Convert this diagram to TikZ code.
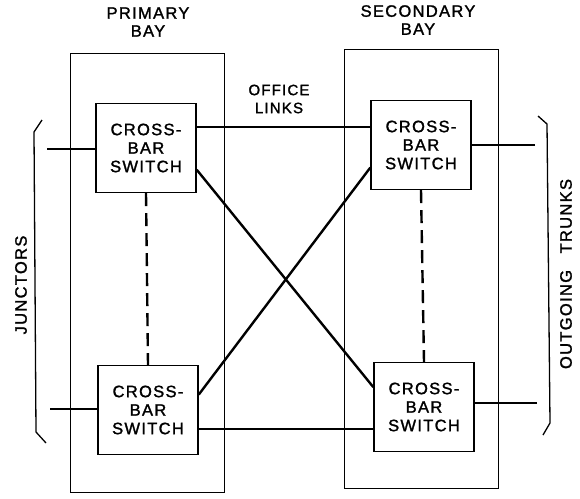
\documentclass[tikz,border=0pt]{standalone}
\usepackage{fontspec}
\setmainfont{Liberation Sans}[LetterSpace=8, FakeBold=1.5]
\usetikzlibrary{calc}

\begin{document}
\begin{tikzpicture}[
  x=1pt, y=-1pt,
  bay/.style={draw, line width=1.1pt, minimum width=154pt, minimum height=439pt},
  switch/.style={draw, fill=white, line width=1.4pt, align=center, inner sep=0pt,
    minimum width=100pt, minimum height=89pt, font=\fontsize{16.5}{18.5}\selectfont},
  tag/.style={align=center, inner sep=0pt, font=\fontsize{16.5}{18}\selectfont},
  link/.style={line width=2.4pt},
  dashlink/.style={line width=2.4pt, dash pattern=on 13pt off 7pt},
  brace/.style={line width=1.3pt}
]
\useasboundingbox (0,0) rectangle (580,498);

\node[bay] (pbay) at (147.5,273) {};
\node[bay] (sbay) at (421.5,269) {};
\node[tag] (ptext) at (148,22) {PRIMARY\\BAY};
\node[tag] (stext) at (418,20) {SECONDARY\\BAY};
\node[tag, font=\fontsize{15}{18}\selectfont] (otext) at (279,99) {OFFICE\\LINKS};

\node[switch] (ptop) at (146,148) {CROSS-\\BAR\\SWITCH};
\node[switch] (pbot) at (148,410) {CROSS-\\BAR\\SWITCH};
\node[switch] (stop) at (421,145) {CROSS-\\BAR\\SWITCH};
\node[switch] (sbot) at (424,407) {CROSS-\\BAR\\SWITCH};

\coordinate (jtop) at (47,149);
\coordinate (jbot) at (50,409);
\coordinate (otop) at (535,145);
\coordinate (obot) at (537,403);

\draw[link] (jtop) -- (jtop -| ptop.west);
\draw[link] (jbot) -- (jbot -| pbot.west);
\draw[link] (otop) -- (otop -| stop.east);
\draw[link] (obot) -- (obot -| sbot.east);

\draw[link] ($(ptop.north east)!0.27!(ptop.south east)$) coordinate (l1)
  -- (l1 -| stop.west);
\draw[link] ($(pbot.north east)!0.71!(pbot.south east)$) coordinate (l2)
  -- (l2 -| sbot.west);
\draw[link] ($(ptop.north east)!0.74!(ptop.south east)$)
  -- ($(sbot.north west)!0.28!(sbot.south west)$);
\draw[link] ($(pbot.north east)!0.33!(pbot.south east)$)
  -- ($(stop.north west)!0.75!(stop.south west)$);

\draw[dashlink] (ptop.south) -- (pbot.north);
\draw[dashlink] (stop.south) -- (sbot.north);

\draw[brace] (42,120) -- (34,132) -- (36,432) -- (46,443);
\draw[brace] (538,116) -- (547,124) -- (550,423) -- (543,435);

\node[tag, rotate=90] (jtext) at (21,285) {JUNCTORS};
\node[tag, rotate=90] (otrunks) at (566,274) {OUTGOING\quad TRUNKS};
\end{tikzpicture}
\end{document}
